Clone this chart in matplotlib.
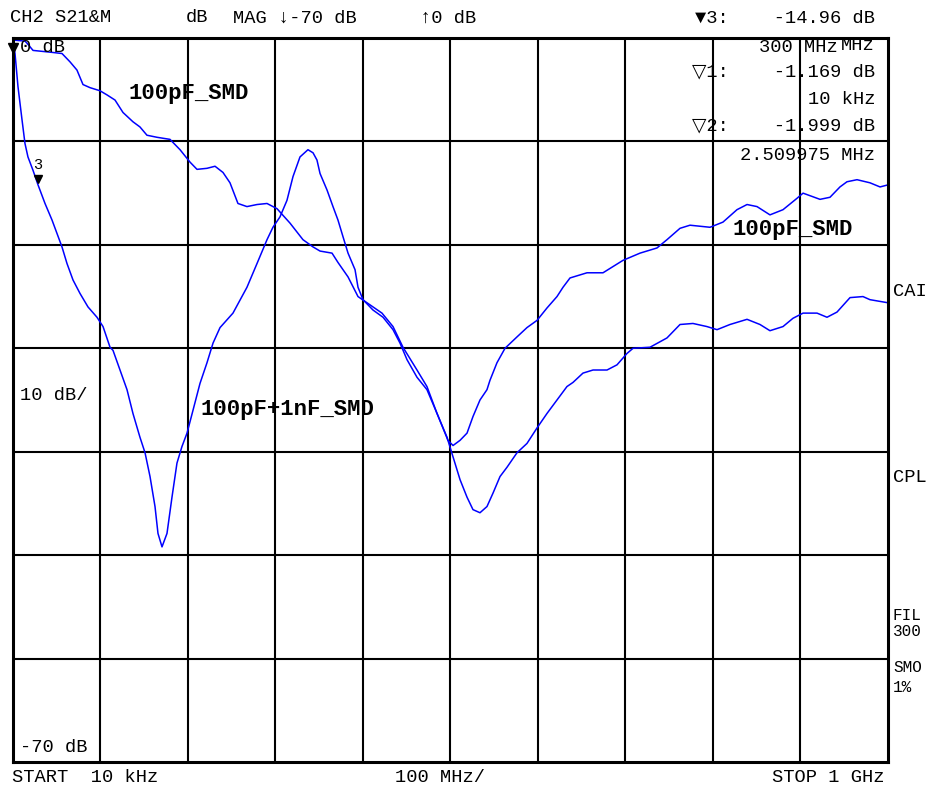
import numpy as np
import matplotlib
matplotlib.use("Agg")
import matplotlib.pyplot as plt

# trace 1: 100pF_SMD (frequency in MHz, S21 in dB)
freq_a = [0.01, 13.7, 16, 22.9, 34.3, 45.7, 56, 65.1, 73.1, 80, 88, 99.4, 107.4, 116.6,
          125.7, 137.1, 145.1, 153.1, 164.6, 179.4, 190.9, 202.3, 210.3, 221.7, 230.9,
          240, 248, 257.1, 267.4, 278.9, 290.3, 301.7, 316.6, 331.4, 342.9, 350.9, 364.6,
          371.4, 382.9, 394.3, 408, 421.7, 434.3, 445.7, 461.7, 473.1, 484.6, 497.1,
          502.9, 510.9, 518.9, 525.7, 533.7, 541.7, 545.1, 553.1, 562.3, 576, 587.4,
          598.9, 610.3, 621.7, 628.6, 636.6, 656, 674.3, 697.1, 716.6, 736, 747.4, 762.3,
          773.7, 796.6, 811.4, 827.4, 838.9, 850.3, 865.1, 880, 896, 902.9, 922.3, 933.7,
          945.1, 953.1, 964.6, 979.4, 990.9, 1000]
db_a = [-0.2, -0.3, -0.5, -1.2, -1.3, -1.4, -1.5, -2.3, -3.1, -4.5, -4.8, -5.1, -5.5, -6.0,
        -7.2, -8.1, -8.6, -9.4, -9.6, -9.8, -10.8, -12.0, -12.7, -12.6, -12.4,
        -13.0, -14.0, -16.0, -16.3, -16.1, -16.0, -16.5, -17.9, -19.5, -20.2, -20.6, -20.8,
        -21.7, -23.1, -25.0, -25.8, -26.6, -27.9, -29.9, -32.1, -33.7, -36.3, -38.9,
        -39.4, -38.9, -38.2, -36.6, -35.0, -34.0, -33.1, -31.4, -30.0, -28.9, -28.0,
        -27.3, -26.1, -25.0, -24.1, -23.2, -22.7, -22.7, -21.5, -20.8, -20.3, -19.5, -18.4,
        -18.1, -18.3, -17.8, -16.6, -16.1, -16.3, -17.1, -16.6, -15.5, -15.0, -15.6, -15.4,
        -14.4, -13.9, -13.7, -14.0, -14.4, -14.2]

# trace 2: 100pF+1nF_SMD
freq_b = [0.01, 2.3, 5.7, 10.3, 13.7, 17.1, 22.9, 28.6, 36.6, 44.6, 50.3, 56, 61.7, 68.6,
          76.6, 85.7, 96, 102.9, 110.9, 114.3, 122.3, 130.3, 137.1, 145.1, 150.9, 156.6,
          162.3, 165.7, 170.3, 176, 181.7, 187.4, 193.1, 198.9, 205.7, 213.7, 221.7, 228.6,
          236.6, 251.4, 267.4, 278.9, 290.3, 297.1, 305.1, 313.1, 320, 328, 337.1, 342.9,
          347.4, 350.9, 358.9, 365.7, 371.4, 377.1, 382.9, 390.9, 394.3, 400, 411.4, 422.9,
          434.3, 442.3, 450.3, 461.7, 473.1, 484.6, 496, 502.9, 510.9, 518.9, 525.7, 533.7,
          541.7, 548.6, 556.6, 564.6, 576, 587.4, 598.9, 610.3, 621.7, 633.1, 640, 651.4,
          662.9, 678.9, 690.3, 701.7, 708.6, 728, 747.4, 762.3, 777.1, 793.1, 804.6, 819.4,
          838.9, 853.7, 865.1, 880, 891.4, 902.9, 918.9, 930.3, 941.7, 956.6, 971.4, 979.4,
          1000]
db_b = [-0.2, -1.5, -4.7, -7.9, -10.2, -11.5, -12.8, -14.2, -16.0, -17.6, -18.9, -20.2, -21.8, -23.4,
        -24.7, -26.0, -27.0, -27.9, -29.9, -30.2, -32.1, -34.0, -36.3, -38.6, -40.1, -42.4,
        -45.3, -47.9, -49.2, -47.9, -44.4, -41.1, -39.5, -38.2, -36.0, -33.4, -31.4, -29.5,
        -28.0, -26.6, -24.1, -21.8, -19.5, -18.3, -17.3, -15.7, -13.4, -11.5, -10.8, -11.1,
        -11.8, -13.1, -14.7, -16.3, -17.6, -19.2, -20.8, -22.4, -24.1, -25.3, -26.3, -27.0,
        -28.2, -29.5, -31.1, -32.8, -34.0, -36.3, -38.6, -40.5, -42.7, -44.4, -45.6, -45.9,
        -45.3, -44.0, -42.4, -41.5, -40.1, -39.2, -37.7, -36.3, -35.0, -33.7, -33.3, -32.4,
        -32.1, -32.1, -31.6, -30.5, -30.0, -29.9, -29.0, -27.7, -27.6, -27.9, -28.2, -27.7,
        -27.2, -27.7, -28.3, -27.9, -27.1, -26.6, -26.6, -27.0, -26.5, -25.1, -25.0, -25.3,
        -25.6]

marker3_freq = 28.6

W, H = 926, 790
fig = plt.figure(figsize=(W / 100, H / 100), dpi=100)
ax = fig.add_axes([13 / W, 1 - 762 / H, 875 / W, 724 / H])
ax.set_xlim(0.01, 1000)
ax.set_ylim(-70, 0)
ax.set_xticks(np.arange(100, 1000, 100))
ax.set_yticks(np.arange(-60, 0, 10))
ax.grid(True, color="black", linewidth=1.5)
ax.tick_params(length=0, labelbottom=False, labelleft=False)
for s in ax.spines.values():
    s.set_linewidth(2.2)

ax.plot(freq_a, db_a, color="#0000ff", linewidth=1.1)
ax.plot(freq_b, db_b, color="#0000ff", linewidth=1.1)

# markers
m3 = np.interp(marker3_freq, freq_b, db_b)
ax.plot([marker3_freq], [m3 + 0.6], marker="v", color="black", markersize=6, clip_on=False)
ax.text(marker3_freq, m3 + 1.2, "3", fontsize=11, family="Liberation Mono",
        ha="center", va="bottom")
ax.plot([0.01], [-1.0], marker="v", color="black", markersize=7, clip_on=False)

mono = "Liberation Mono"
def ftext(x, y, s, **kw):
    kw.setdefault("fontsize", 13.5)
    kw.setdefault("family", [mono, "DejaVu Sans"])
    fig.text(x / W, 1 - y / H, s, va="center", **kw)

# header
ftext(10, 18, "CH2 S21&M")
ftext(186, 18, "dB")
ftext(233, 18, "MAG \u2193-70 dB")
ftext(420, 18, "\u21910 dB")
ftext(875, 18, "\u25bc3:    -14.96 dB", ha="right")
ftext(838, 47, "300 MHz", ha="right")
ftext(875, 45, "MHz", ha="right")
ftext(875, 72, "\u25bd1:    -1.169 dB", ha="right")
ftext(875, 99, "10 kHz", ha="right")
ftext(875, 126, "\u25bd2:    -1.999 dB", ha="right")
ftext(875, 155, "2.509975 MHz", ha="right")

# inside the graticule
ftext(20, 48, "0 dB")
ftext(20, 395, "10 dB/")
ftext(20, 747, "-70 dB")

# right side annotations
ftext(893, 292, "CAI")
ftext(893, 477, "CPL")
ftext(893, 615, "FIL", fontsize=11.5)
ftext(893, 632, "300", fontsize=11.5)
ftext(893, 668, "SMO", fontsize=11.5)
ftext(893, 688, "1%", fontsize=11.5)

# footer
ftext(12, 777, "START  10 kHz")
ftext(440, 777, "100 MHz/", ha="center")
ftext(885, 777, "STOP 1 GHz", ha="right")

# trace labels
ftext(128, 93, "100pF_SMD", fontsize=16, weight="bold")
ftext(200, 410, "100pF+1nF_SMD", fontsize=16, weight="bold")
ftext(733, 230, "100pF_SMD", fontsize=16, weight="bold")

fig.savefig("out.png", dpi=100, facecolor="white")
